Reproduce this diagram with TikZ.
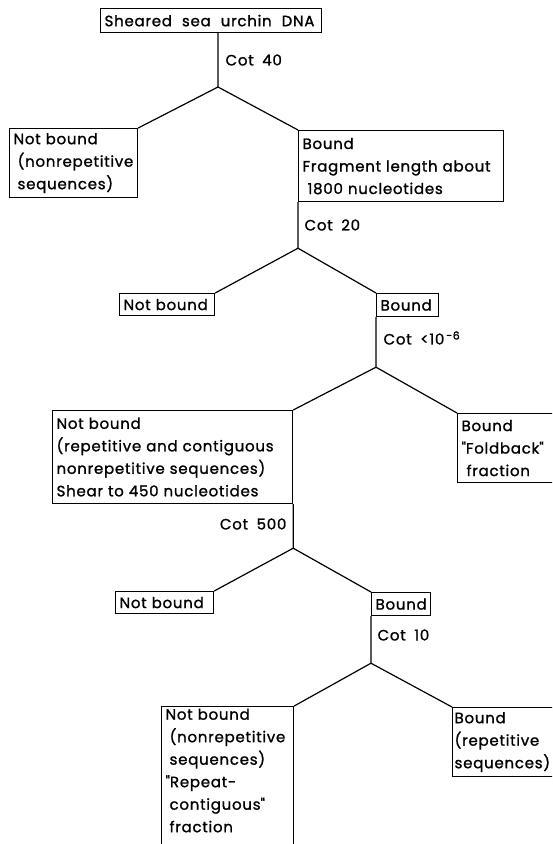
\documentclass[tikz,border=0pt]{standalone}
\usepackage{fontspec}
\setmainfont{Poppins}[FakeBold=1.2, LetterSpace=5, WordSpace=1.8]
\newcommand\ind{\hspace*{4pt}}
\tikzset{
  stage/.style = {draw, rectangle, anchor=north west, align=left, inner xsep=4pt, inner ysep=2pt,
    font=\fontsize{15}{22.5}\selectfont},
  cot/.style = {inner sep=0pt, font=\fontsize{15}{22.5}\selectfont},
}

\begin{document}
\begin{tikzpicture}[x=1pt, y=-1pt, line width=1.2pt]
  \useasboundingbox (0,0) rectangle (552,844);
  \clip (0,0) rectangle (552,844);
  % first step
  \node[stage, text width=213pt, minimum height=24pt] (dna) at (100,8)
    {\spaceskip=10pt Sheared sea urchin DNA};
  \coordinate (fork0) at (218,87);
  \node[stage, text width=120pt, minimum height=69pt] (free1) at (9,128)
    {Not bound\\\ind(nonrepetitive\\\ind sequences)};
  \node[stage, text width=197pt, minimum height=71pt] (held1) at (298,130)
    {Bound\\Fragment length about\\\ 1800 nucleotides};
  % second step
  \coordinate (fork1) at ([yshift=-46pt]held1.south west);
  \node[stage, text width=87pt, minimum height=22pt] (free2) at (119,293) {Not bound};
  \node[stage, text width=54pt, minimum height=23pt] (held2) at (376,293) {Bound};
  % third step
  \coordinate (fork2) at ([yshift=-50pt]held2.south west);
  \node[stage, text width=232pt, minimum height=93pt] (free3) at (52,410)
    {Not bound\\(repetitive and contiguous\\nonrepetitive sequences)\\Shear to 450 nucleotides};
  \node[stage, text width=110pt, minimum height=69pt] (held3) at (457,413)
    {Bound\\\textquotedbl Foldback\textquotedbl\\\ fraction};
  % fourth step
  \coordinate (fork3) at ([yshift=-44pt]free3.south east);
  \node[stage, text width=90pt, minimum height=22pt] (free4) at (115,591) {Not bound};
  \node[stage, text width=51pt, minimum height=23pt] (held4) at (371,592) {Bound};
  % fifth step (box runs off the page)
  \coordinate (fork4) at ([yshift=-47pt]held4.south west);
  \node[stage, text width=124pt] (free5) at (161,706)
    {Not bound\\\ind(nonrepetitive\\\ind sequences)\\\textquotedbl Repeat-\\\ind contiguous\textquotedbl\\\ind fraction\\\strut};
  \node[stage, inner xsep=2pt, text width=114pt, minimum height=69pt] (held5) at (452,707)
    {Bound\\(repetitive\\sequences)};

  \node[cot, anchor=west] (cot40) at (225,60) {Cot 40};
  \node[cot, anchor=west] (cot20) at (304,225) {Cot 20};
  \node[cot, anchor=west] (cot6) at (383,338)
    {Cot <10\raisebox{5pt}{\fontsize{11}{11}\selectfont\,-6}};
  \node[cot, anchor=east] (cot500) at (287,524) {Cot 500};
  \node[cot, anchor=west] (cot10) at (377,635) {Cot 10};

  \draw (dna.south -| fork0) -- (fork0) -- (free1.north east);
  \draw (fork0) -- (held1.north west);
  \draw (held1.south west) -- (fork1) -- (free2.north east);
  \draw (fork1) -- (held2.north west);
  \draw (held2.south west) -- (fork2) -- (free3.north east);
  \draw (fork2) -- (held3.north west);
  \draw (free3.south east) -- (fork3) -- (free4.north east);
  \draw (fork3) -- (held4.north west);
  \draw (held4.south west) -- (fork4) -- (free5.north east);
  \draw (fork4) -- (held5.north west);
\end{tikzpicture}
\end{document}
